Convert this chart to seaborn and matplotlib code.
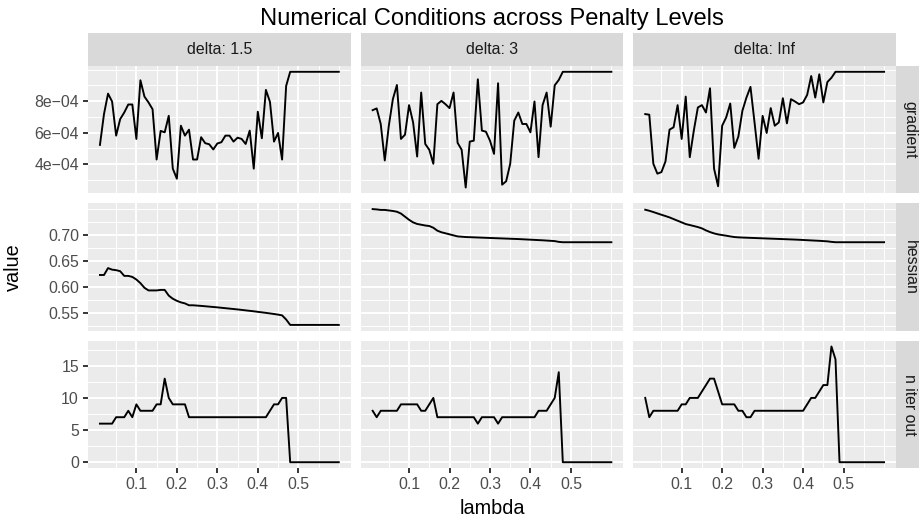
import matplotlib
matplotlib.use("Agg")
import matplotlib.pyplot as plt
import numpy as np
import pandas as pd
import seaborn as sns

# ------------------------------------------
# data
# ------------------------------------------
LAMBDA = [0.01, 0.02, 0.03, 0.04, 0.05, 0.06, 0.07, 0.08, 0.09, 0.10,
          0.11, 0.12, 0.13, 0.14, 0.15, 0.16, 0.17, 0.18, 0.19, 0.20,
          0.21, 0.22, 0.23, 0.24, 0.25, 0.26, 0.27, 0.28, 0.29, 0.30,
          0.31, 0.32, 0.33, 0.34, 0.35, 0.36, 0.37, 0.38, 0.39, 0.40,
          0.41, 0.42, 0.43, 0.44, 0.45, 0.46, 0.47, 0.48, 0.49, 0.50,
          0.51, 0.52, 0.53, 0.54, 0.55, 0.56, 0.57, 0.58, 0.59, 0.60]

DELTAS = ["1.5", "3", "Inf"]
METRICS = ["gradient", "hessian", "n iter out"]

# gradient, in units of 1e-4
GRAD_15 = [5.22, 7.18, 8.48, 7.98, 5.81, 6.86, 7.28, 7.79, 7.79, 5.60,
           9.33, 8.29, 7.92, 7.49, 4.29, 6.11, 6.02, 7.07, 3.71, 3.07,
           6.44, 5.81, 6.19, 4.29, 4.29, 5.71, 5.33, 5.26, 4.93, 5.31,
           5.39, 5.81, 5.81, 5.43, 5.68, 5.60, 5.28, 6.13, 3.71, 7.33,
           5.64, 8.72, 7.96, 5.43, 5.98, 4.29, 8.97, 9.87, 9.87, 9.87,
           9.87, 9.87, 9.87, 9.87, 9.87, 9.87, 9.87, 9.87, 9.87, 9.87]
GRAD_3 = [7.43, 7.54, 6.55, 4.23, 6.44, 8.13, 9.03, 5.60, 5.87, 7.75,
          6.65, 4.48, 8.55, 5.28, 4.91, 4.02, 7.81, 8.02, 7.81, 7.56,
          8.55, 5.35, 4.91, 2.51, 5.43, 5.49, 9.39, 6.13, 6.06, 5.49,
          4.65, 9.14, 2.69, 2.91, 4.02, 6.76, 7.28, 6.55, 6.55, 6.02,
          7.98, 4.44, 7.75, 8.55, 6.38, 9.01, 9.35, 9.87, 9.87, 9.87,
          9.87, 9.87, 9.87, 9.87, 9.87, 9.87, 9.87, 9.87, 9.87, 9.87]
GRAD_INF = [7.18, 7.14, 4.02, 3.39, 3.49, 4.17, 6.19, 6.34, 7.75, 5.60,
            8.29, 4.44, 6.13, 7.60, 7.75, 7.28, 8.82, 3.71, 2.59, 6.44,
            6.97, 7.85, 5.03, 5.75, 7.39, 8.23, 8.91, 6.65, 4.34, 7.07,
            5.98, 7.56, 6.44, 6.65, 8.19, 6.59, 8.13, 7.98, 7.81, 7.92,
            8.40, 9.60, 8.23, 9.71, 7.92, 9.22, 9.49, 9.87, 9.87, 9.87,
            9.87, 9.87, 9.87, 9.87, 9.87, 9.87, 9.87, 9.87, 9.87, 9.87]

HESS_15 = [0.6237, 0.6237, 0.637, 0.634, 0.633, 0.631, 0.622, 0.622, 0.620, 0.615,
           0.608, 0.599, 0.594, 0.594, 0.594, 0.595, 0.595, 0.584, 0.578, 0.574,
           0.571, 0.569, 0.5654, 0.5654, 0.5648, 0.5642, 0.5635, 0.5628, 0.5621, 0.5614,
           0.5606, 0.5598, 0.5590, 0.5582, 0.5574, 0.5565, 0.5556, 0.5547, 0.5538, 0.5528,
           0.5518, 0.5508, 0.5497, 0.5486, 0.5474, 0.5460, 0.5380, 0.5276, 0.5276, 0.5276,
           0.5276, 0.5276, 0.5276, 0.5276, 0.5276, 0.5276, 0.5276, 0.5276, 0.5276, 0.5276]
HESS_3 = [0.7506, 0.750, 0.749, 0.749, 0.748, 0.747, 0.7455, 0.742, 0.736, 0.730,
          0.725, 0.722, 0.7205, 0.719, 0.718, 0.7147, 0.709, 0.706, 0.704, 0.702,
          0.700, 0.698, 0.6974, 0.6968, 0.6965, 0.6962, 0.6959, 0.6956, 0.6953, 0.6950,
          0.6947, 0.6944, 0.6941, 0.6938, 0.6935, 0.6932, 0.6929, 0.6925, 0.6921, 0.6917,
          0.6913, 0.6909, 0.6905, 0.6900, 0.6895, 0.6890, 0.6875, 0.6868, 0.6868, 0.6868,
          0.6868, 0.6868, 0.6868, 0.6868, 0.6868, 0.6868, 0.6868, 0.6868, 0.6868, 0.6868]
HESS_INF = [0.7494, 0.7474, 0.7449, 0.7423, 0.7397, 0.7372, 0.7346, 0.7314, 0.7282, 0.7250,
            0.7218, 0.7199, 0.7180, 0.7160, 0.7135, 0.7096, 0.7064, 0.7038, 0.7019, 0.7006,
            0.6994, 0.6980, 0.6968, 0.6962, 0.6958, 0.6955, 0.6952, 0.6949, 0.6946, 0.6943,
            0.6940, 0.6937, 0.6934, 0.6931, 0.6928, 0.6925, 0.6922, 0.6919, 0.6915, 0.6911,
            0.6907, 0.6903, 0.6899, 0.6895, 0.6890, 0.6885, 0.6875, 0.6868, 0.6868, 0.6868,
            0.6868, 0.6868, 0.6868, 0.6868, 0.6868, 0.6868, 0.6868, 0.6868, 0.6868, 0.6868]

ITER_15 = [6, 6, 6, 6, 7, 7, 7, 8, 7, 9,
           8, 8, 8, 8, 9, 9, 13, 10, 9, 9,
           9, 9, 7, 7, 7, 7, 7, 7, 7, 7,
           7, 7, 7, 7, 7, 7, 7, 7, 7, 7,
           7, 7, 8, 9, 9, 10, 10, 0, 0, 0,
           0, 0, 0, 0, 0, 0, 0, 0, 0, 0]
ITER_3 = [8, 7, 8, 8, 8, 8, 8, 9, 9, 9,
          9, 9, 8, 8, 9, 10, 7, 7, 7, 7,
          7, 7, 7, 7, 7, 7, 6, 7, 7, 7,
          7, 6, 7, 7, 7, 7, 7, 7, 7, 7,
          7, 8, 8, 8, 9, 10, 14, 0, 0, 0,
          0, 0, 0, 0, 0, 0, 0, 0, 0, 0]
ITER_INF = [10, 7, 8, 8, 8, 8, 8, 8, 8, 9,
            9, 10, 10, 10, 11, 12, 13, 13, 11, 9,
            9, 9, 9, 8, 8, 7, 7, 8, 8, 8,
            8, 8, 8, 8, 8, 8, 8, 8, 8, 8,
            9, 10, 10, 11, 12, 12, 18, 16, 0, 0,
            0, 0, 0, 0, 0, 0, 0, 0, 0, 0]

X_MAJOR = [0.1, 0.2, 0.3, 0.4, 0.5]
X_LABELS = ["0.1", "0.2", "0.3", "0.4", "0.5"]
X_MINOR = [0.05, 0.15, 0.25, 0.35, 0.45, 0.55, 0.6]

Y_MAJOR = {"gradient": [4e-4, 6e-4, 8e-4],
           "hessian": [0.55, 0.60, 0.65, 0.70],
           "n iter out": [0, 5, 10, 15]}
Y_LABELS = {"gradient": ["4e\u221204", "6e\u221204", "8e\u221204"],
            "hessian": ["0.55", "0.60", "0.65", "0.70"],
            "n iter out": ["0", "5", "10", "15"]}
Y_MINOR = {"gradient": [3e-4, 5e-4, 7e-4, 9e-4, 1e-3],
           "hessian": [0.525, 0.575, 0.625, 0.675, 0.725, 0.75],
           "n iter out": [2.5, 7.5, 12.5, 17.5]}

# ggplot-ish colours
C_PANEL = "#EBEBEB"
C_STRIP = "#D9D9D9"
C_STRIP_TXT = "#1A1A1A"
C_TICK_TXT = "#4D4D4D"
C_TICK = "#333333"

W, H = 920, 525
COL_X = [(88, 350.7), (360.7, 623.3), (633.3, 896)]
ROW_Y = [(66, 193.3), (203.3, 330.7), (340.7, 468)]


def build_frame():
    series = {
        ("gradient", "1.5"): np.array(GRAD_15) * 1e-4,
        ("gradient", "3"): np.array(GRAD_3) * 1e-4,
        ("gradient", "Inf"): np.array(GRAD_INF) * 1e-4,
        ("hessian", "1.5"): HESS_15,
        ("hessian", "3"): HESS_3,
        ("hessian", "Inf"): HESS_INF,
        ("n iter out", "1.5"): ITER_15,
        ("n iter out", "3"): ITER_3,
        ("n iter out", "Inf"): ITER_INF,
    }
    frames = []
    for (metric, delta), vals in series.items():
        frames.append(pd.DataFrame({"lambda": LAMBDA, "value": vals,
                                    "metric": metric, "delta": delta}))
    return pd.concat(frames, ignore_index=True)


def rect(x0, y0, x1, y1):
    return [x0 / W, 1 - y1 / H, (x1 - x0) / W, (y1 - y0) / H]


def main():
    plt.rcParams['font.family'] = ['Liberation Sans', 'DejaVu Sans']
    df = build_frame()

    fig = plt.figure(figsize=(W / 100, H / 100), dpi=100)
    first = None
    row_first = {}
    for r, metric in enumerate(METRICS):
        for c, delta in enumerate(DELTAS):
            x0, x1 = COL_X[c]
            y0, y1 = ROW_Y[r]
            ax = fig.add_axes(rect(x0, y0, x1, y1), sharex=first,
                              sharey=row_first.get(r))
            if first is None:
                first = ax
            if r not in row_first:
                row_first[r] = ax

            sub = df[(df["metric"] == metric) & (df["delta"] == delta)]
            sns.lineplot(data=sub, x="lambda", y="value", ax=ax,
                         color="black", linewidth=1.38)

            ax.set_facecolor(C_PANEL)
            for s in ax.spines.values():
                s.set_visible(False)
            ax.set_xlabel("")
            ax.set_ylabel("")
            ax.set_xticks(X_MAJOR)
            ax.set_xticks(X_MINOR, minor=True)
            ax.set_xticklabels(X_LABELS)
            ax.set_yticks(Y_MAJOR[metric])
            ax.set_yticks(Y_MINOR[metric], minor=True)
            ax.set_yticklabels(Y_LABELS[metric])
            ax.grid(which="major", color="white", linewidth=1.38)
            ax.grid(which="minor", color="white", linewidth=0.69)
            ax.set_axisbelow(True)
            ax.tick_params(which="major", length=3.6, width=1.38, color=C_TICK,
                           labelsize=11.4, labelcolor=C_TICK_TXT, pad=2.9)
            ax.tick_params(which="minor", length=0)
            ax.tick_params(axis="x", bottom=(r == 2), labelbottom=(r == 2))
            ax.tick_params(axis="y", left=(c == 0), labelleft=(c == 0))

    # facet strips on top
    for c, delta in enumerate(DELTAS):
        x0, x1 = COL_X[c]
        sax = fig.add_axes(rect(x0, 33, x1, 66))
        sax.set_facecolor(C_STRIP)
        sax.set_xticks([])
        sax.set_yticks([])
        for s in sax.spines.values():
            s.set_visible(False)
        sax.text(0.5, 0.5, f"delta: {delta}", ha="center", va="center",
                 transform=sax.transAxes, fontsize=11.4, color=C_STRIP_TXT)

    # facet strips on the right (cut by the figure edge)
    for r, metric in enumerate(METRICS):
        y0, y1 = ROW_Y[r]
        sax = fig.add_axes(rect(896, y0, 929, y1))
        sax.set_facecolor(C_STRIP)
        sax.set_xticks([])
        sax.set_yticks([])
        for s in sax.spines.values():
            s.set_visible(False)
        fig.text(910 / W, 1 - (y0 + y1) / 2 / H, metric, rotation=-90,
                 ha="center", va="center", fontsize=11.4, color=C_STRIP_TXT)

    fig.text(492 / W, 1 - 19 / H, "Numerical Conditions across Penalty Levels",
             ha="center", va="center", fontsize=17.1, color="black")
    fig.text(492 / W, 1 - 508 / H, "lambda", ha="center", va="center",
             fontsize=14.3, color="black")
    fig.text(13 / W, 1 - 267 / H, "value", ha="center", va="center",
             rotation=90, fontsize=14.3, color="black")

    fig.savefig("out.png", dpi=100)
    plt.close(fig)


if __name__ == "__main__":
    main()
